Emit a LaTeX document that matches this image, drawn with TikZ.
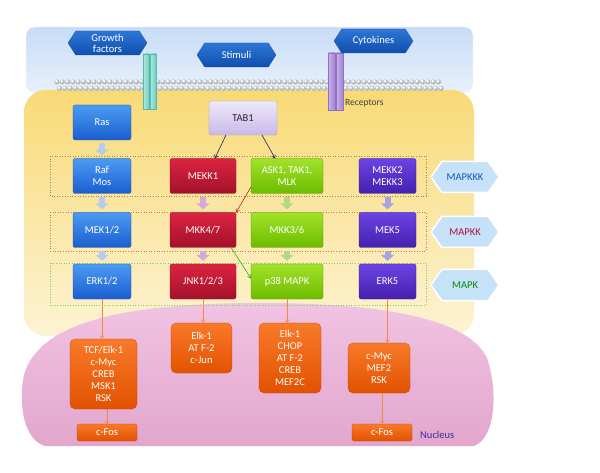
\documentclass[tikz,border=0pt]{standalone}
\usepackage{fontspec}
\setmainfont{Carlito}
\usepackage{tikz}
\usetikzlibrary{shapes.symbols,arrows.meta,calc}

\definecolor{bandtop}{HTML}{C8DCF6}
\definecolor{bandbot}{HTML}{E8F1FC}
\definecolor{cyttop}{HTML}{F8DA76}
\definecolor{cytbot}{HTML}{FDF3D4}
\definecolor{nuctop}{HTML}{F1C3E2}
\definecolor{nucbot}{HTML}{E2A6CD}
\definecolor{blueA}{HTML}{4C9BF2}
\definecolor{blueB}{HTML}{1A5ED0}
\definecolor{redA}{HTML}{DC2440}
\definecolor{redB}{HTML}{A4102A}
\definecolor{greenA}{HTML}{A2E22A}
\definecolor{greenB}{HTML}{6CBC00}
\definecolor{violetA}{HTML}{6C44E4}
\definecolor{violetB}{HTML}{4420AE}
\definecolor{orangeA}{HTML}{F87A2A}
\definecolor{orangeB}{HTML}{E25200}
\definecolor{tabA}{HTML}{EEE8FB}
\definecolor{tabB}{HTML}{C9B9EA}
\definecolor{hexA}{HTML}{2E76D6}
\definecolor{hexB}{HTML}{0F4EAE}
\definecolor{sidehex}{HTML}{C6E2F8}
\definecolor{tealrec}{HTML}{8EE0D0}
\definecolor{violrec}{HTML}{A99AE0}
\definecolor{nucleustext}{HTML}{3A2C9C}
\definecolor{orangeline}{HTML}{F08848}
\definecolor{bead}{HTML}{B8BCC0}
\definecolor{chevblue}{HTML}{B4CCF0}
\definecolor{chevred}{HTML}{D8A8DC}
\definecolor{chevgreen}{HTML}{B2D888}
\definecolor{chevviolet}{HTML}{A8A4E0}

\begin{document}
\begin{tikzpicture}[x=1pt,y=-1pt,
	box/.style={rounded corners=2pt, minimum height=35pt, align=center, text=white, inner sep=1pt, font=\fontsize{10.5}{12.5}\selectfont},
	bluebox/.style={box, minimum width=58pt, top color=blueA, bottom color=blueB, draw=blueB!80!black, very thin},
	redbox/.style={box, minimum width=66pt, top color=redA, bottom color=redB, draw=redB!80!black, very thin},
	greenbox/.style={box, minimum width=72pt, top color=greenA, bottom color=greenB, draw=greenB!80!black, very thin},
	violetbox/.style={box, minimum width=57pt, top color=violetA, bottom color=violetB, draw=violetB!80!black, very thin},
	tfbox/.style={box, rounded corners=5pt, top color=orangeA, bottom color=orangeB, draw=orangeB!80!black, very thin, font=\fontsize{10.5}{12}\selectfont},
	fosbox/.style={box, rounded corners=1.5pt, minimum width=60pt, minimum height=17pt, top color=orangeA, bottom color=orangeB, draw=orangeB!80!black, very thin},
	tophex/.style={signal, signal to=east and west, signal pointer angle=115, minimum width=79pt, minimum height=24pt, inner sep=0pt, align=center, text=white, top color=hexA, bottom color=hexB, draw=hexB, very thin, font=\fontsize{10.5}{11}\selectfont},
	sidehexstyle/.style={signal, signal to=east and west, signal pointer angle=110, minimum width=68pt, minimum height=31pt, inner sep=0pt, fill=sidehex, draw=white, line width=1.5pt, font=\fontsize{10.5}{12}\selectfont},
	chev/.style={line width=6pt, -{Triangle[width=13pt,length=6pt]}, shorten <=3pt, shorten >=3pt},
	thinarrow/.style={-{Straight Barb[length=3pt,width=4pt]}, line width=0.5pt}
]
	% frame
	\useasboundingbox (0,0) rectangle (600,473);

	% outside band and cytoplasm
	\shade[top color=bandtop, bottom color=bandbot, draw=white, rounded corners=8pt] (26,27) rectangle (473,93);
	\shade[top color=cyttop, bottom color=cytbot, rounded corners=22pt] (24,90) rectangle (474,336);

	% nucleus
	\shade[top color=nuctop, bottom color=nucbot] (45,446) .. controls (24,440) and (18,405) .. (24,375)
		.. controls (40,315) and (150,303) .. (262,303) .. controls (380,303) and (468,318) .. (487,358)
		.. controls (498,390) and (496,438) .. (474,446) -- cycle;

	% membrane
	\foreach \x in {0,...,72}{
		\fill[bead] ({57+5.3*\x},82) circle (2.6);
		\fill[white] ({56.4+5.3*\x},81.2) circle (1.4);
		\fill[bead] ({59.6+5.3*\x},88.5) circle (2.6);
		\fill[white] ({59+5.3*\x},87.7) circle (1.4);
	}

	% receptors
	\shade[left color=tealrec!70!white, right color=tealrec!80!teal, draw=tealrec!60!teal, thin] (143,54) rectangle (149,109);
	\shade[left color=tealrec!70!white, right color=tealrec!80!teal, draw=tealrec!60!teal, thin] (150,54) rectangle (156,109);
	\shade[left color=violrec!70!white, right color=violrec!85!violet, draw=violrec!70!violet, thin] (328,53) rectangle (335,110);
	\shade[left color=violrec!70!white, right color=violrec!85!violet, draw=violrec!70!violet, thin] (336,53) rectangle (343,110);
	\node[anchor=west, inner sep=0pt, text=black!75, font=\fontsize{9.5}{10}\selectfont] (receptors) at (345,103) {Receptors};

	% stimuli
	\node[tophex] (growth) at (107.5,43) {Growth\\factors};
	\node[tophex] (stimuli) at (236.5,55) {Stimuli};
	\node[tophex] (cytokines) at (373.5,41) {Cytokines};

	% row frames
	\draw[dotted, line width=0.6pt, brown!55!gray] (50,156) rectangle (426,196);
	\draw[dotted, line width=0.6pt, red!45!brown!80!white] (50,212) rectangle (426,251);
	\draw[dotted, line width=0.6pt, green!50!olive!70!white] (50,263) rectangle (426,305);

	% upstream
	\node[bluebox] (ras) at (102,122.5) {Ras};
	\node[box, minimum width=68pt, minimum height=34pt, top color=tabA, bottom color=tabB, draw=tabB!80!black, very thin, text=black!85] (tab1) at (243,118) {TAB1};

	% MAPKKK
	\node[bluebox] (raf) at (102,176) {Raf\\Mos};
	\node[redbox] (mekk1) at (203,176) {MEKK1};
	\node[greenbox] (ask1) at (287,176) {ASK1, TAK1,\\MLK};
	\node[violetbox] (mekk23) at (387.5,176) {MEKK2\\MEKK3};
	\node[sidehexstyle, text=blueB!90!black] (mapkkk) at (465,177) {MAPKKK};

	% MAPKK
	\node[bluebox] (mek12) at (102,230) {MEK1/2};
	\node[redbox] (mkk47) at (203,230) {MKK4/7};
	\node[greenbox] (mkk36) at (287,230) {MKK3/6};
	\node[violetbox] (mek5) at (387.5,230) {MEK5};
	\node[sidehexstyle, text=redB!90!magenta] (mapkk) at (465,232) {MAPKK};

	% MAPK
	\node[bluebox] (erk12) at (102,281.5) {ERK1/2};
	\node[redbox] (jnk) at (203,281.5) {JNK1/2/3};
	\node[greenbox] (p38) at (287,281.5) {p38 MAPK};
	\node[violetbox] (erk5) at (387.5,281.5) {ERK5};
	\node[sidehexstyle, text=green!55!black] (mapk) at (465,285) {MAPK};

	% transcription factors
	\node[tfbox, minimum width=67pt, minimum height=70pt] (tcf) at (103.5,374) {TCF/Elk-1\\c-Myc\\CREB\\MSK1\\RSK};
	\node[tfbox, minimum width=61pt, minimum height=50pt] (elkjun) at (201.5,348) {Elk-1\\AT F-2\\c-Jun};
	\node[tfbox, minimum width=62pt, minimum height=70pt] (elkchop) at (290,358) {Elk-1\\CHOP\\AT F-2\\CREB\\MEF2C};
	\node[tfbox, minimum width=62pt, minimum height=50pt] (myc) at (379,368) {c-Myc\\MEF2\\RSK};
	\node[fosbox] (fosa) at (107,432.5) {c-Fos};
	\node[fosbox] (fosb) at (382,432.5) {c-Fos};
	\node[anchor=west, inner sep=0pt, text=nucleustext, font=\fontsize{10.5}{11}\selectfont] (nucleus) at (420,435) {Nucleus};

	% cascade arrows
	\draw[chev, chevblue] (ras) -- (raf);
	\draw[chev, chevblue] (raf) -- (mek12);
	\draw[chev, chevblue] (mek12) -- (erk12);
	\draw[chev, chevred] (mekk1) -- (mkk47);
	\draw[chev, chevred] (mkk47) -- (jnk);
	\draw[chev, chevgreen] (ask1) -- (mkk36);
	\draw[chev, chevgreen] (mkk36) -- (p38);
	\draw[chev, chevviolet] (mekk23) -- (mek5);
	\draw[chev, chevviolet] (mek5) -- (erk5);

	% cross talk
	\draw[thinarrow, black!60!blue] (tab1.-135) -- (mekk1.56);
	\draw[thinarrow, black!60!blue] (tab1.-42) -- (ask1.124);
	\draw[thinarrow, red!75!black] (ask1.197) -- (mkk47.28);
	\draw[thinarrow, green!70!black] (mkk47.-32) -- (p38.175);

	% into the nucleus
	\draw[thinarrow, orangeline] (erk12.south) -- (erk12.south |- tcf.north);
	\draw[thinarrow, orangeline] (jnk.south) -- (jnk.south |- elkjun.north);
	\draw[thinarrow, orangeline] (p38.south) -- (p38.south |- elkchop.north);
	\draw[thinarrow, orangeline] (erk5.south) -- (erk5.south |- myc.north);
	\draw[thinarrow, orangeline] (tcf.south -| fosa.north) -- (fosa.north);
	\draw[thinarrow, orangeline] (myc.south -| fosb.north) -- (fosb.north);

\end{tikzpicture}
\end{document}
